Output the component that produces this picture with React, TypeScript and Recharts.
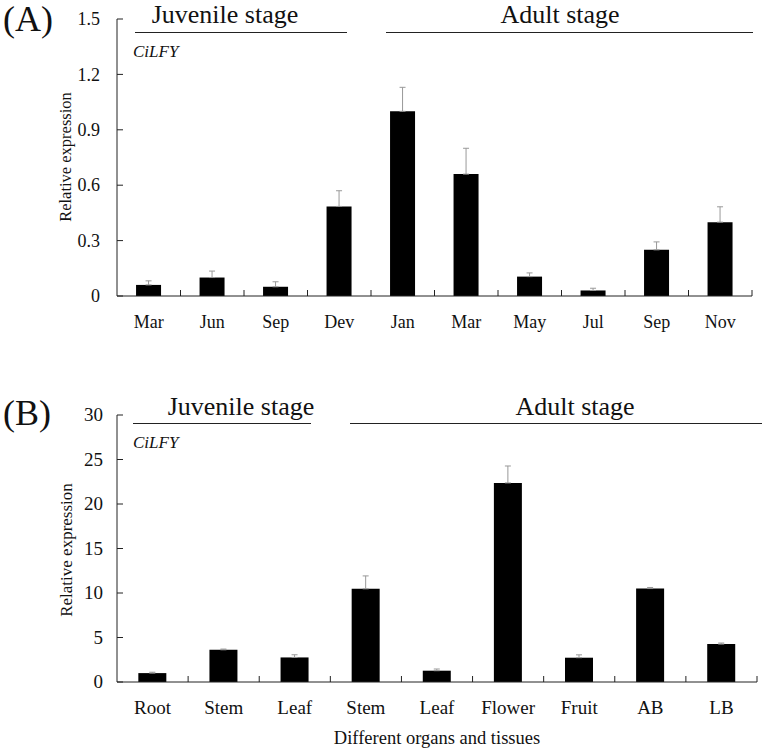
import React from "react";
import { BarChart, Bar, XAxis, YAxis, ErrorBar } from "recharts";

const monthLabels = ["Mar", "Jun", "Sep", "Dev", "Jan", "Mar", "May", "Jul", "Sep", "Nov"];
const monthValues = [0.06, 0.1, 0.05, 0.485, 1.0, 0.66, 0.105, 0.03, 0.25, 0.4];
const monthErrors = [0.022, 0.035, 0.027, 0.085, 0.13, 0.14, 0.02, 0.012, 0.043, 0.083];
const monthTicks = [0, 0.3, 0.6, 0.9, 1.2, 1.5];

const tissueLabels = ["Root", "Stem", "Leaf", "Stem", "Leaf", "Flower", "Fruit", "AB", "LB"];
const tissueValues = [1.0, 3.62, 2.76, 10.47, 1.27, 22.37, 2.73, 10.5, 4.26];
const tissueErrors = [0.1, 0.08, 0.3, 1.45, 0.19, 1.9, 0.32, 0.12, 0.12];
const tissueTicks = [0, 5, 10, 15, 20, 25, 30];

const SERIF = '"Liberation Serif", "Times New Roman", serif';
const W = 767;
const AXIS_X = 117;

// bars only carry an upper error, so lower bound is 0
const monthData = monthLabels.map((name, i) => ({
  name,
  key: `${name}-${i}`,
  value: monthValues[i],
  err: [0, monthErrors[i]],
}));
const tissueData = tissueLabels.map((name, i) => ({
  name,
  key: `${name}-${i}`,
  value: tissueValues[i],
  err: [0, tissueErrors[i]],
}));

function makeYTick(gap: number, fontSize: number, fmt: (v: number) => string) {
  return (props: any) => {
    const { x, y, payload } = props;
    return (
      <g>
        <line x1={x + gap} x2={x + gap + 6} y1={y} y2={y} stroke="#222" strokeWidth={1} />
        <text
          x={x}
          y={y}
          dy="0.34em"
          textAnchor="end"
          fontFamily={SERIF}
          fontSize={fontSize}
          fill="#111"
        >
          {fmt(payload.value)}
        </text>
      </g>
    );
  };
}

function makeXTick(band: number, labels: string[], fontSize: number, offset: number) {
  return (props: any) => {
    const { x, y, index } = props;
    return (
      <g>
        <line x1={x + band / 2} x2={x + band / 2} y1={y} y2={y - 6} stroke="#222" strokeWidth={1} />
        <text
          x={x}
          y={y + offset}
          dy="0.34em"
          textAnchor="middle"
          fontFamily={SERIF}
          fontSize={fontSize}
          fill="#111"
        >
          {labels[index]}
        </text>
      </g>
    );
  };
}

function Annotations() {
  const txt = { fontFamily: SERIF, fill: "#111" } as const;
  return (
    <svg
      width={W}
      height={752}
      style={{ position: "absolute", left: 0, top: 0, pointerEvents: "none" }}
    >
      {/* panel A */}
      <text x={3} y={31} fontSize={36} {...txt}>(A)</text>
      <text x={225} y={23} fontSize={26} textAnchor="middle" {...txt}>Juvenile stage</text>
      <text x={560} y={23} fontSize={26} textAnchor="middle" {...txt}>Adult stage</text>
      <line x1={135} x2={347} y1={32.5} y2={32.5} stroke="#222" strokeWidth={1.2} />
      <line x1={386} x2={753} y1={32.5} y2={32.5} stroke="#222" strokeWidth={1.2} />
      <text x={133} y={57} fontSize={17} fontStyle="italic" {...txt}>CiLFY</text>
      <text
        x={65}
        y={157}
        fontSize={16.5}
        textAnchor="middle"
        dy="0.34em"
        transform="rotate(-90 65 157)"
        {...txt}
      >
        Relative expression
      </text>

      {/* panel B */}
      <text x={3} y={425} fontSize={36} {...txt}>(B)</text>
      <text x={241} y={415} fontSize={26} textAnchor="middle" {...txt}>Juvenile stage</text>
      <text x={575} y={415} fontSize={26} textAnchor="middle" {...txt}>Adult stage</text>
      <line x1={133} x2={311} y1={423.5} y2={423.5} stroke="#222" strokeWidth={1.2} />
      <line x1={350} x2={762} y1={423.5} y2={423.5} stroke="#222" strokeWidth={1.2} />
      <text x={133} y={448} fontSize={17} fontStyle="italic" {...txt}>CiLFY</text>
      <text
        x={66}
        y={550}
        fontSize={17}
        textAnchor="middle"
        dy="0.34em"
        transform="rotate(-90 66 550)"
        {...txt}
      >
        Relative expression
      </text>
      <text x={437} y={738} fontSize={18.5} textAnchor="middle" dy="0.34em" {...txt}>
        Different organs and tissues
      </text>
    </svg>
  );
}

export default function App() {
  const aMargin = { top: 19, right: 15, left: 0, bottom: 0 };
  const bMargin = { top: 35, right: 10, left: 0, bottom: 0 };
  const aBand = (W - AXIS_X - aMargin.right) / monthData.length;
  const bBand = (W - AXIS_X - bMargin.right) / tissueData.length;

  return (
    <div style={{ position: "absolute", left: 0, top: 0, width: W, height: 752, background: "#fff" }}>
      <div style={{ position: "absolute", left: 0, top: 0 }}>
        <BarChart width={W} height={340} data={monthData} margin={aMargin} barCategoryGap="30%">
          <XAxis
            dataKey="key"
            axisLine={{ stroke: "#222" }}
            tickLine={false}
            tickSize={0}
            tickMargin={0}
            height={44}
            interval={0}
            tick={makeXTick(aBand, monthLabels, 18, 26)}
          />
          <YAxis
            width={AXIS_X}
            domain={[0, 1.5]}
            ticks={monthTicks}
            axisLine={{ stroke: "#222" }}
            tickLine={false}
            tickSize={0}
            tickMargin={17}
            tick={makeYTick(17, 18, (v) => (v === 0 ? "0" : v.toFixed(1)))}
          />
          <Bar dataKey="value" fill="#000" isAnimationActive={false}>
            <ErrorBar dataKey="err" width={3} stroke="#999" strokeWidth={1} direction="y" />
          </Bar>
        </BarChart>
      </div>
      <div style={{ position: "absolute", left: 0, top: 380 }}>
        <BarChart width={W} height={372} data={tissueData} margin={bMargin} barCategoryGap="30%">
          <XAxis
            dataKey="key"
            axisLine={{ stroke: "#222" }}
            tickLine={false}
            tickSize={0}
            tickMargin={0}
            height={70}
            interval={0}
            tick={makeXTick(bBand, tissueLabels, 19, 26)}
          />
          <YAxis
            width={AXIS_X}
            domain={[0, 30]}
            ticks={tissueTicks}
            axisLine={{ stroke: "#222" }}
            tickLine={false}
            tickSize={0}
            tickMargin={14}
            tick={makeYTick(14, 19, (v) => String(v))}
          />
          <Bar dataKey="value" fill="#000" isAnimationActive={false}>
            <ErrorBar dataKey="err" width={3} stroke="#999" strokeWidth={1} direction="y" />
          </Bar>
        </BarChart>
      </div>
      <Annotations />
    </div>
  );
}
